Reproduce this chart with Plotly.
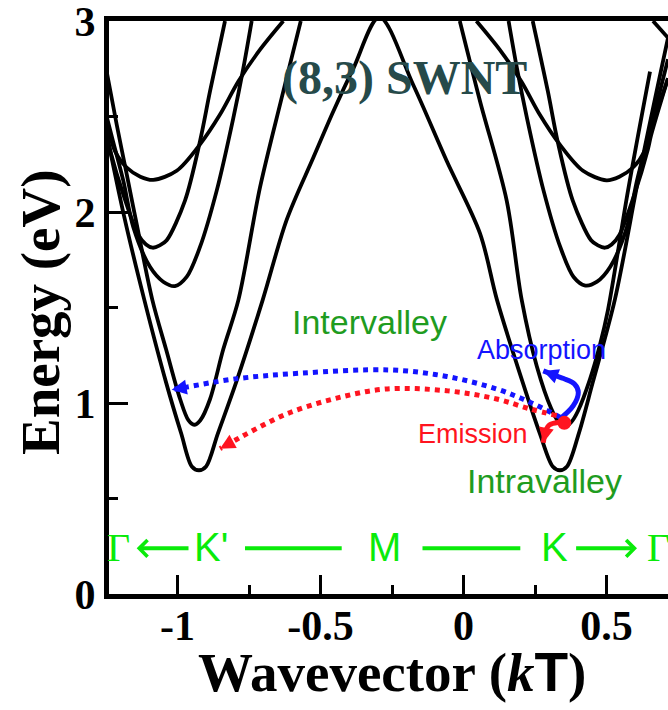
import plotly.graph_objects as go

# ---------------- data ----------------
# lowest conduction band (K' valley -> M -> K valley)
band1_k = [-1.2476, -1.187, -1.116, -1.040, -0.987, -0.950, -0.925, -0.900, -0.859, -0.795,
           -0.702, -0.618, -0.525, -0.455, -0.385, -0.294, -0.176, -0.059, 0.058, 0.117,
           0.207, 0.267, 0.312, 0.337, 0.362, 0.403, 0.452, 0.529, 0.617, 0.715]
band1_E = [2.41, 1.98, 1.54, 1.108, 0.84, 0.668, 0.648, 0.668, 0.84, 1.108,
           1.54, 1.96, 2.285, 2.527, 2.752, 3.02, 2.666, 2.268, 1.887, 1.54,
           1.108, 0.84, 0.668, 0.648, 0.668, 0.84, 1.108, 1.54, 2.216, 2.912]

# second band
band2_left_k = [-1.2476, -1.2126, -1.1776, -1.143, -1.088, -1.040, -0.991, -0.962, -0.942,
                -0.920, -0.886, -0.840, -0.787, -0.7115, -0.636, -0.569]
band2_left_E = [2.735, 2.458, 2.198, 1.939, 1.54, 1.281, 1.021, 0.91, 0.886,
                0.91, 1.021, 1.281, 1.54, 2.129, 2.596, 3.0]
band2_right_k = [-0.013, 0.058, 0.151, 0.2035, 0.256, 0.307, 0.333, 0.355, 0.377, 0.4003,
                 0.4423, 0.4773, 0.5052, 0.5752, 0.6521]
band2_right_E = [3.0, 2.579, 2.06, 1.54, 1.194, 0.97, 0.90, 0.875, 0.90, 0.958,
                 1.125, 1.306, 1.488, 2.112, 2.735]

# third band
band3_left_k = [-1.2476, -1.2255, -1.1895, -1.1545, -1.0962, -1.05, -1.009, -0.968, -0.9213,
                -0.8629, -0.8049, -0.7699, -0.7406]
band3_left_E = [2.50, 2.371, 2.164, 1.921, 1.713, 1.635, 1.612, 1.66, 1.817,
                2.112, 2.492, 2.752, 3.0]
band3_right_k = [0.1576, 0.1869, 0.2219, 0.2799, 0.3383, 0.385, 0.426, 0.467, 0.5132,
                 0.5715, 0.6065, 0.6425, 0.6646, 0.715]
band3_right_E = [3.0, 2.752, 2.492, 2.112, 1.817, 1.66, 1.615, 1.635, 1.713,
                 1.921, 2.164, 2.371, 2.50, 2.80]

# fourth band
band4_left_k = [-1.2476, -1.237, -1.187, -1.137, -1.11, -1.087, -1.062, -1.0378, -0.9738,
                -0.9213, -0.8864, -0.8339]
band4_left_E = [2.40, 2.33, 2.08, 1.88, 1.83, 1.813, 1.825, 1.852, 2.06,
                2.371, 2.631, 3.0]
band4_right_k = [0.242, 0.295, 0.329, 0.382, 0.446, 0.47, 0.495, 0.518, 0.545, 0.595,
                 0.645, 0.6556, 0.715]
band4_right_E = [3.0, 2.631, 2.371, 2.06, 1.852, 1.825, 1.813, 1.83, 1.88, 2.08,
                 2.33, 2.40, 2.70]

# fifth band
band5_left_k = [-1.2476, -1.2185, -1.1776, -1.13, -1.085, -1.0028, -0.9213, -0.8514,
                -0.7874, -0.7115, -0.6301]
band5_left_E = [2.475, 2.319, 2.233, 2.185, 2.168, 2.216, 2.354, 2.51,
                2.683, 2.85, 3.0]
band5_right_k = [0.0451, 0.1265, 0.2024, 0.2664, 0.3363, 0.4178, 0.5, 0.545, 0.5926,
                 0.6335, 0.655, 0.715]
band5_right_E = [3.0, 2.85, 2.683, 2.51, 2.354, 2.216, 2.166, 2.185, 2.233,
                 2.319, 2.43, 2.70]

# short piece entering at the top right corner
band6_k = [0.6626, 0.715]
band6_E = [3.0, 2.912]

# transitions
abs_inter_k = [0.3374, 0.2325, 0.1161, -0.0587, -0.257, -0.5717, -0.8049, -0.9685, -1.0203]
abs_inter_E = [0.926, 1.004, 1.073, 1.139, 1.173, 1.156, 1.125, 1.083, 1.069]
emi_inter_k = [0.3259, 0.2325, 0.1161, -0.0587, -0.2745, -0.4552, -0.6182, -0.7465, -0.8056, -0.8514]
emi_inter_E = [0.934, 0.969, 1.021, 1.064, 1.073, 1.021, 0.943, 0.848, 0.799, 0.761]
abs_intra_k = [0.3374, 0.3839, 0.4014, 0.388, 0.35, 0.322, 0.279]
abs_intra_E = [0.917, 0.986, 1.056, 1.10, 1.128, 1.143, 1.168]
emi_intra_k = [0.3664, 0.33, 0.30, 0.2885, 0.279]
emi_intra_E = [0.896, 0.898, 0.885, 0.86, 0.792]
exciton_k = [0.3524]
exciton_E = [0.896]

x_tick_vals = [-1, -0.5, 0, 0.5]
x_tick_text = ["-1", "-0.5", "0", "0.5"]
x_minor_vals = [-0.75, -0.25, 0.25]
y_tick_vals = [0, 1, 2, 3]
y_tick_text = ["0", "1", "2", "3"]
y_minor_vals = [0.5, 1.5, 2.5]

# ---------------- figure ----------------
BLUE = "#1414ff"
RED = "#ff1420"
DARKGREEN = "#1f9c1f"
LIGHTGREEN = "#0aeb0a"
SERIF = "Liberation Serif"
SANS = "Liberation Sans"

fig = go.Figure()

segments = [
    (band1_k, band1_E),
    (band2_left_k, band2_left_E), (band2_right_k, band2_right_E),
    (band3_left_k, band3_left_E), (band3_right_k, band3_right_E),
    (band4_left_k, band4_left_E), (band4_right_k, band4_right_E),
    (band5_left_k, band5_left_E), (band5_right_k, band5_right_E),
    (band6_k, band6_E),
]
for k, e in segments:
    fig.add_trace(go.Scatter(x=k, y=e, mode="lines",
                             line=dict(color="black", width=3.8, shape="spline", smoothing=0.9),
                             hoverinfo="skip", showlegend=False))

for k, e, c in [(abs_inter_k, abs_inter_E, BLUE), (emi_inter_k, emi_inter_E, RED)]:
    fig.add_trace(go.Scatter(x=k, y=e, mode="lines",
                             line=dict(color=c, width=5, dash="dot", shape="spline", smoothing=1),
                             hoverinfo="skip", showlegend=False))

for k, e, c in [(abs_intra_k, abs_intra_E, BLUE), (emi_intra_k, emi_intra_E, RED)]:
    fig.add_trace(go.Scatter(x=k, y=e, mode="lines",
                             line=dict(color=c, width=5, shape="spline", smoothing=1),
                             hoverinfo="skip", showlegend=False))

fig.add_trace(go.Scatter(x=exciton_k, y=exciton_E, mode="markers",
                         marker=dict(color=RED, size=14, line=dict(width=0)),
                         hoverinfo="skip", showlegend=False))

# arrow heads at the ends of the transition paths
for k, e, c in [(abs_inter_k, abs_inter_E, BLUE), (emi_inter_k, emi_inter_E, RED),
                (abs_intra_k, abs_intra_E, BLUE), (emi_intra_k, emi_intra_E, RED)]:
    fig.add_annotation(x=k[-1], y=e[-1], ax=k[-2], ay=e[-2], xref="x", yref="y",
                       axref="x", ayref="y", text="", showarrow=True, arrowhead=2,
                       arrowsize=1, arrowwidth=3, arrowcolor=c, standoff=0, startstandoff=0)

# text labels
def label(txt, x, y, size, color, family=SANS, **kw):
    fig.add_annotation(x=x, y=y, xref="x", yref="y", text=txt, showarrow=False,
                       font=dict(family=family, size=size, color=color),
                       xanchor="center", yanchor="middle", **kw)

label("<b>(8,3) SWNT</b>", -0.208, 2.70, 48, "#264a4a", family=SERIF)
label("Intervalley", -0.330, 1.426, 34, DARKGREEN)
label("Intravalley", 0.283, 0.590, 34, DARKGREEN)
label("Absorption", 0.271, 1.277, 27, BLUE)
label("Emission", 0.033, 0.838, 27, RED)

# path labels along the bottom
label("\u0393", -1.208, 0.246, 40, LIGHTGREEN, family=SERIF)
label("K'", -0.8836, 0.246, 40, LIGHTGREEN)
label("M", -0.277, 0.246, 40, LIGHTGREEN)
label("K", 0.3189, 0.246, 40, LIGHTGREEN)
label("\u0393", 0.6818, 0.246, 40, LIGHTGREEN, family=SERIF)
for x0, x1 in [(-0.764, -0.4259), (-0.1434, 0.1986)]:
    fig.add_shape(type="line", x0=x0, x1=x1, y0=0.239, y1=0.239, xref="x", yref="y",
                  line=dict(color=LIGHTGREEN, width=4))
for tail, tip in [(-0.9563, -1.1427), (0.3885, 0.6066)]:
    fig.add_annotation(x=tip, y=0.239, ax=tail, ay=0.239, xref="x", yref="y",
                       axref="x", ayref="y", text="", showarrow=True, arrowhead=4,
                       arrowsize=0.8, arrowwidth=4, arrowcolor=LIGHTGREEN, standoff=0)

# axis titles
fig.add_annotation(x=-0.1234, y=0.4921, xref="paper", yref="paper", text="<b>Energy (eV)</b>",
                   textangle=-90, showarrow=False, font=dict(family=SERIF, size=55, color="black"),
                   xanchor="center", yanchor="middle")
fig.add_annotation(x=0.507, y=-0.1355, xref="paper", yref="paper",
                   text="<b>Wavevector (<i>k</i><span style='font-family:Liberation Sans'>T</span>)</b>",
                   showarrow=False, font=dict(family=SERIF, size=55, color="black"),
                   xanchor="center", yanchor="middle")

tickfont = dict(family=SERIF, size=42, color="black", weight="bold")
fig.update_layout(
    width=668, height=710,
    margin=dict(l=109, r=0, t=21, b=116),
    plot_bgcolor="white", paper_bgcolor="white",
    showlegend=False,
    xaxis=dict(range=[-1.2395, 0.715], showline=True, linewidth=5, linecolor="black",
               mirror=True, showgrid=False, zeroline=False,
               ticks="inside", ticklen=19, tickwidth=2.5, tickcolor="black",
               tickvals=x_tick_vals, ticktext=x_tick_text, tickfont=tickfont,
               ticklabelstandoff=-9, ticklabeloverflow="allow",
               minor=dict(ticks="inside", ticklen=9, tickwidth=2.5, tickcolor="black",
                          tickvals=x_minor_vals, showgrid=False)),
    yaxis=dict(range=[0, 3], showline=True, linewidth=5, linecolor="black",
               mirror=False, showgrid=False, zeroline=False,
               ticks="inside", ticklen=19, tickwidth=2.5, tickcolor="black",
               tickvals=y_tick_vals, ticktext=y_tick_text, tickfont=tickfont,
               ticklabeloverflow="allow",
               minor=dict(ticks="inside", ticklen=9, tickwidth=2.5, tickcolor="black",
                          tickvals=y_minor_vals, showgrid=False)),
)

fig.write_html("out.html")
